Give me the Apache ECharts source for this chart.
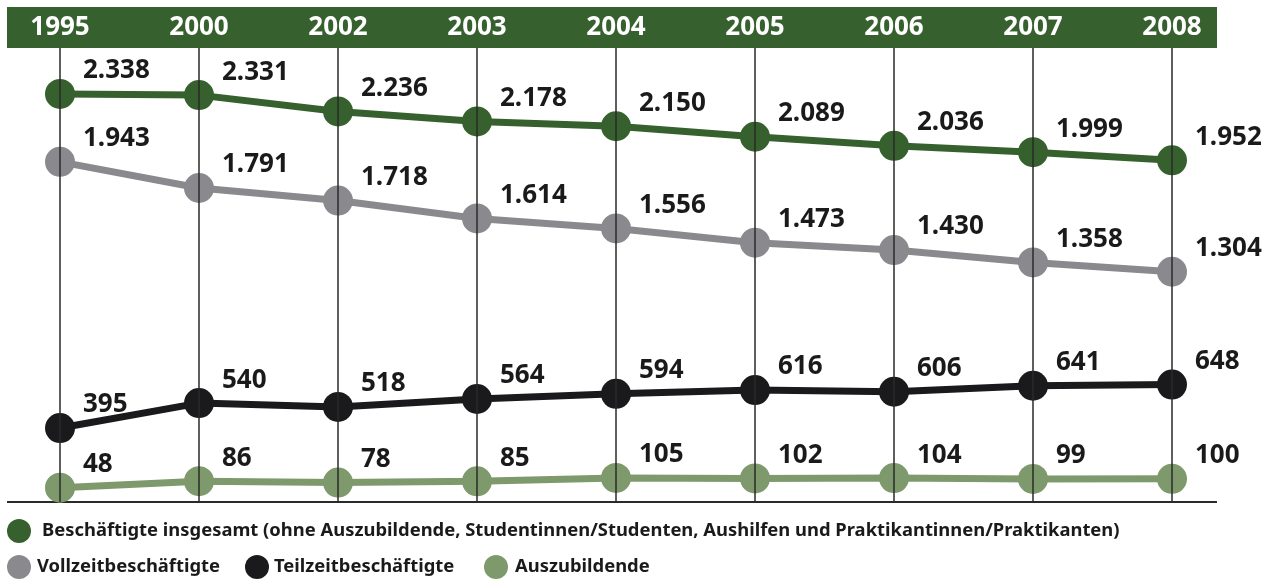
<!DOCTYPE html>
<html>
<head>
<meta charset="utf-8">
<script src="https://cdn.jsdelivr.net/npm/echarts@6/dist/echarts.min.js"></script>
<style>
  html, body { margin: 0; padding: 0; background: #fff; }
  #chart { width: 1274px; height: 582px; }
</style>
</head>
<body>
<div id="chart"></div>
<script>
const years = ['1995', '2000', '2002', '2003', '2004', '2005', '2006', '2007', '2008']
const insgesamt = [2338, 2331, 2236, 2178, 2150, 2089, 2036, 1999, 1952]
const vollzeit = [1943, 1791, 1718, 1614, 1556, 1473, 1430, 1358, 1304]
const teilzeit = [395, 540, 518, 564, 594, 616, 606, 641, 648]
const azubis = [48, 86, 78, 85, 105, 102, 104, 99, 100]

const names = [
  'Beschäftigte insgesamt (ohne Auszubildende, Studentinnen/Studenten, Aushilfen und Praktikantinnen/Praktikanten)',
  'Vollzeitbeschäftigte',
  'Teilzeitbeschäftigte',
  'Auszubildende'
]
const colors = ['#36612e', '#8a898e', '#1a1a1c', '#7e9a6d']

const numFont = '"Noto Sans", sans-serif'

// Zahl im deutschen Format: 2338 -> 2.338
const fmt = v => String(v).replace(/\B(?=(\d{3})+(?!\d))/g, '.')

function makeSeries(name, data, color) {
  return {
    name,
    type: 'line',
    data,
    symbol: 'circle',
    symbolSize: 30,
    itemStyle: { color },
    lineStyle: { color, width: 7 },
    label: {
      show: true,
      position: 'right',
      distance: 8,
      offset: [0, -23],
      color: '#1a1a1a',
      fontFamily: numFont,
      fontWeight: 'bold',
      fontSize: 26,
      formatter: p => fmt(p.value)
    }
  }
}

function legendAt(name, left, top, gap) {
  return {
    data: [name],
    left,
    top,
    padding: 0,
    icon: 'circle',
    itemWidth: 24,
    itemHeight: 24,
    selectedMode: false,
    textStyle: {
      color: '#1a1a1a',
      fontFamily: numFont,
      fontWeight: 'bold',
      fontSize: 18.4,
      padding: [0, 0, 0, gap]
    }
  }
}

const chart = echarts.init(document.getElementById('chart'))
chart.setOption({
  animation: false,
  backgroundColor: '#fff',
  grid: { left: 60, right: 102, top: 48, bottom: 80 },
  graphic: [
    { type: 'rect', shape: { x: 7, y: 7, width: 1210, height: 41 }, style: { fill: '#36612e' }, z: 0 },
    { type: 'line', shape: { x1: 7, y1: 502, x2: 1217, y2: 502 }, style: { stroke: '#2a2a2a', lineWidth: 2 }, z: 0 }
  ],
  xAxis: {
    type: 'category',
    data: years,
    position: 'top',
    boundaryGap: false,
    z: 10,
    axisLine: { show: false },
    axisTick: { show: false },
    axisLabel: {
      color: '#fff',
      fontFamily: numFont,
      fontWeight: 'bold',
      fontSize: 26,
      margin: 7
    },
    splitLine: { show: true, lineStyle: { color: '#2a2a2a', width: 1.5 } }
  },
  yAxis: {
    type: 'value',
    min: -35,
    max: 2605,
    show: false,
    splitLine: { show: false }
  },
  legend: [
    legendAt(names[0], 7, 519, 6),
    legendAt(names[1], 7, 555, 1),
    legendAt(names[2], 245, 555, 0),
    legendAt(names[3], 484, 555, 2)
  ],
  series: [
    makeSeries(names[0], insgesamt, colors[0]),
    makeSeries(names[1], vollzeit, colors[1]),
    makeSeries(names[2], teilzeit, colors[2]),
    makeSeries(names[3], azubis, colors[3])
  ]
})
</script>
</body>
</html>
